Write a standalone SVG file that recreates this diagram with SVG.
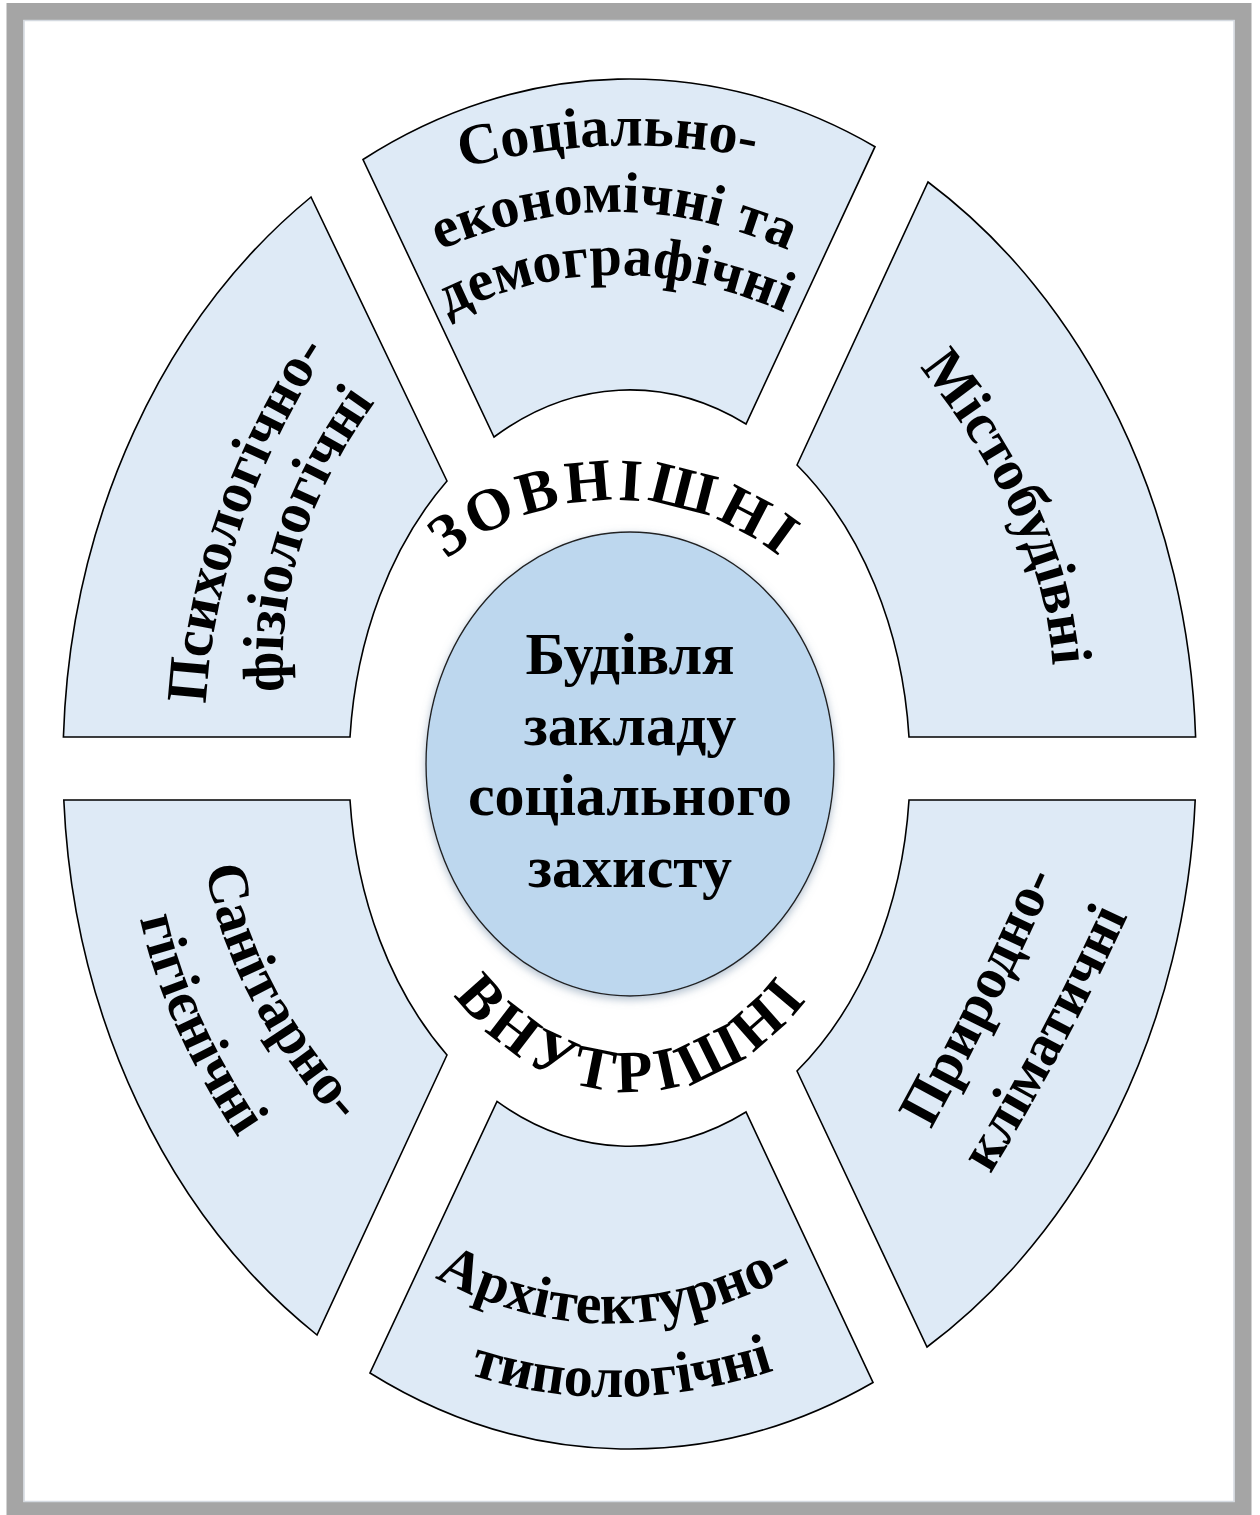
<svg xmlns="http://www.w3.org/2000/svg" width="1260" height="1515" viewBox="0 0 1260 1515">
  <style>
    .seg { fill: #DEEAF6; stroke: #000000; stroke-width: 1.6; }
    .lbl { font-family: "Liberation Serif", "Times New Roman", serif; font-weight: bold; fill: #000000; }
    .seglbl { font-size: 58px; }
    .ring { font-size: 60px; }
    .core { font-size: 60px; text-anchor: middle; }
  </style>
  <defs>
    <filter id="shadow" x="-20%" y="-20%" width="140%" height="140%">
      <feDropShadow dx="0" dy="3" stdDeviation="4" flood-color="#6f8aa6" flood-opacity="0.55"/>
    </filter>
    <path id="pT1" d="M 452,171 Q 607.5,126.5 765,160"/>
    <path id="pT2" d="M 432,254 Q 614,170 796,254"/>
    <path id="pT3" d="M 440,320 Q 608,232 792,316"/>
    <path id="pLT1" d="M 206,702 Q 216,527 326,352"/>
    <path id="pLT2" d="M 285,700 Q 268,548 380,395"/>
    <path id="pRT1" d="M 915,362 Q 1046,523 1053,672"/>
    <path id="pLB1" d="M 205,862 Q 224,995 342,1128"/>
    <path id="pLB2" d="M 138,910 Q 162,1027 243,1145"/>
    <path id="pRB1" d="M 928,1135 Q 998,1008 1058,872"/>
    <path id="pRB2" d="M 990,1175 Q 1066,1050 1128,915"/>
    <path id="pB1" d="M 425,1272 Q 614,1378 805,1266"/>
    <path id="pB2" d="M 462,1372 Q 614,1424 782,1368"/>
    <path id="pOuter" d="M 347,768 A 268 268 0 0 1 883,768"/>
    <path id="pInner" d="M 382,768 A 250 324 0 0 0 882,768"/>
  </defs>

  <g id="frame">
    <rect x="15" y="11.5" width="1228" height="1499" fill="#FFFFFF" stroke="#A5A5A5" stroke-width="17"/>
    <rect x="24" y="20.5" width="1210" height="1481" fill="none" stroke="#D4D9E0" stroke-width="1.5"/>
  </g>

  <g id="seg-top">
    <path class="seg" d="M 363,159.5 A 566.5 685 0 0 1 875,146.7 L 746,424 A 280.5 378 0 0 0 494,437 Z"/>
    <text class="lbl seglbl"><textPath href="#pT1" startOffset="50%" text-anchor="middle">Соціально-</textPath></text>
    <text class="lbl seglbl"><textPath href="#pT2" startOffset="50%" text-anchor="middle">економічні та</textPath></text>
    <text class="lbl seglbl"><textPath href="#pT3" startOffset="50%" text-anchor="middle">демографічні</textPath></text>
  </g>

  <g id="seg-left-top">
    <path class="seg" d="M 311,197 L 447,481 A 280.5 378 0 0 0 350,737 L 63.4,737 A 566.5 685 0 0 1 311,197 Z"/>
    <text class="lbl seglbl"><textPath href="#pLT1" startOffset="50%" text-anchor="middle">Психологічно-</textPath></text>
    <text class="lbl seglbl"><textPath href="#pLT2" startOffset="50%" text-anchor="middle">фізіологічні</textPath></text>
  </g>

  <g id="seg-right-top">
    <path class="seg" d="M 928,182 A 566.5 685 0 0 1 1195.6,737 L 909,737 A 280.5 378 0 0 0 797,465 Z"/>
    <text class="lbl seglbl"><textPath href="#pRT1" startOffset="50%" text-anchor="middle">Містобудівні</textPath></text>
  </g>

  <g id="seg-left-bottom">
    <path class="seg" d="M 63.8,800 L 350,800 A 280.5 378 0 0 0 447,1055 L 317,1335 A 566.5 685 0 0 1 63.8,800 Z"/>
    <text class="lbl seglbl"><textPath href="#pLB1" startOffset="50%" text-anchor="middle">Санітарно-</textPath></text>
    <text class="lbl seglbl"><textPath href="#pLB2" startOffset="50%" text-anchor="middle">гігієнічні</textPath></text>
  </g>

  <g id="seg-right-bottom">
    <path class="seg" d="M 909,800 L 1195.2,800 A 566.5 685 0 0 1 927,1347 L 797,1071 A 280.5 378 0 0 0 909,800 Z"/>
    <text class="lbl seglbl"><textPath href="#pRB1" startOffset="50%" text-anchor="middle">Природно-</textPath></text>
    <text class="lbl seglbl"><textPath href="#pRB2" startOffset="50%" text-anchor="middle">кліматичні</textPath></text>
  </g>

  <g id="seg-bottom">
    <path class="seg" d="M 497,1101.4 A 280.5 378 0 0 0 746,1112 L 873,1382.5 A 566.5 685 0 0 1 370,1373 Z"/>
    <text class="lbl seglbl"><textPath href="#pB1" startOffset="50%" text-anchor="middle">Архітектурно-</textPath></text>
    <text class="lbl seglbl"><textPath href="#pB2" startOffset="50%" text-anchor="middle">типологічні</textPath></text>
  </g>

  <g id="ring-labels">
    <text class="lbl ring" letter-spacing="5"><textPath href="#pOuter" startOffset="50%" text-anchor="middle">ЗОВНІШНІ</textPath></text>
    <text class="lbl ring" letter-spacing="6"><textPath href="#pInner" startOffset="50%" text-anchor="middle">ВНУТРІШНІ</textPath></text>
  </g>

  <g id="center">
    <ellipse cx="630" cy="764" rx="204" ry="232" fill="#BDD7EE" stroke="#222222" stroke-width="1.4" filter="url(#shadow)"/>
    <text class="lbl core" x="630" y="674">Будівля</text>
    <text class="lbl core" x="630" y="745">закладу</text>
    <text class="lbl core" x="630" y="815">соціального</text>
    <text class="lbl core" x="630" y="887">захисту</text>
  </g>
</svg>
